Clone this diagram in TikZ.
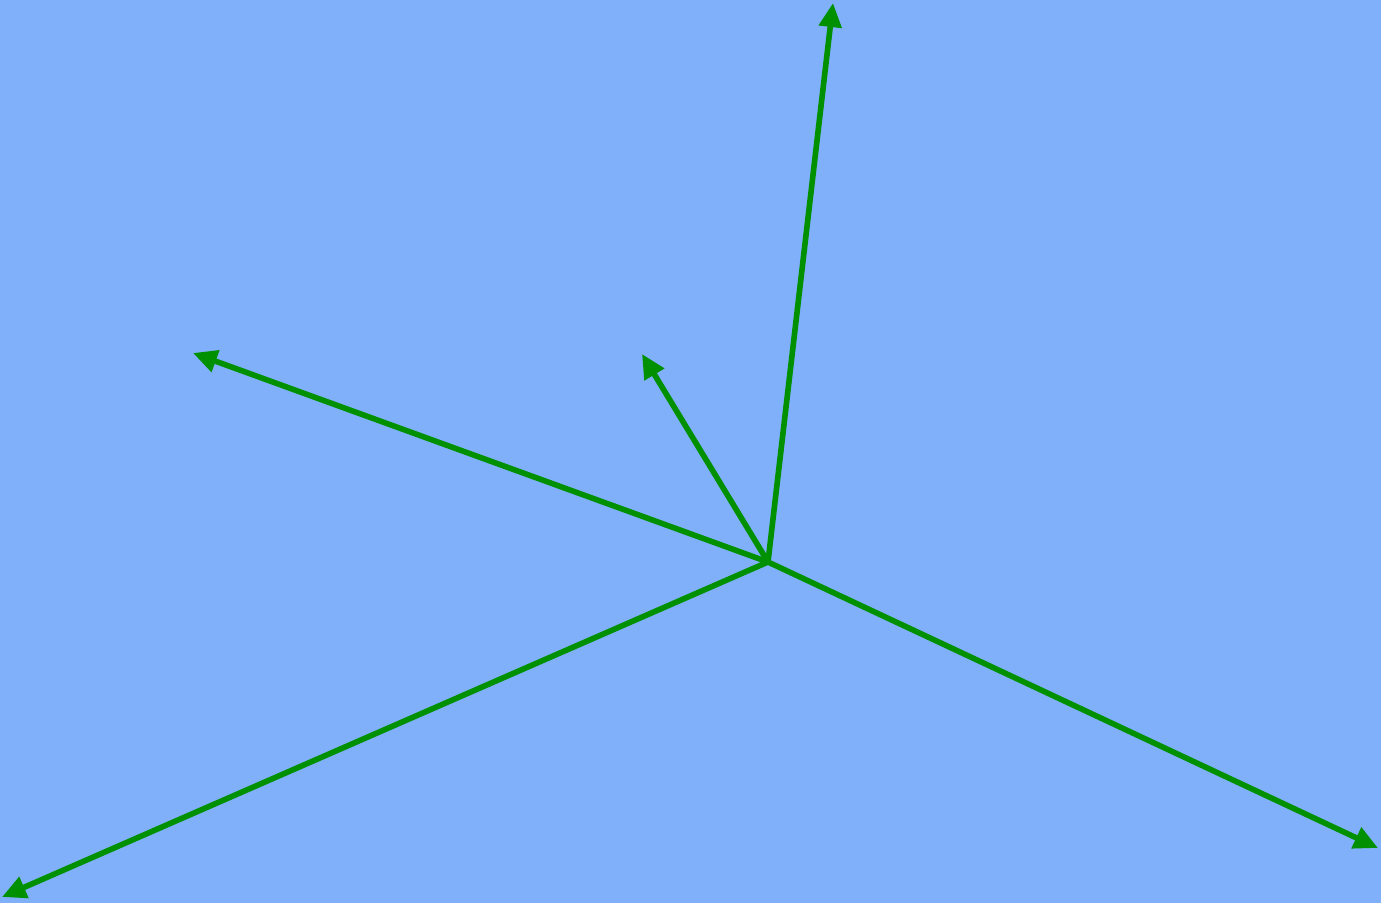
\documentclass[tikz,border=0pt]{standalone}
\usetikzlibrary{arrows.meta}
\definecolor{bg}{HTML}{80B0FA}
\definecolor{arr}{HTML}{009000}
\begin{document}
\begin{tikzpicture}[x=0.01cm,y=-0.01cm,
  vec/.style={draw=arr,line width=0.056cm,-{Triangle[length=0.24cm,width=0.22cm]}}]
\fill[bg] (0,0) rectangle (1381,903);
\useasboundingbox (0,0) rectangle (1381,903);
\coordinate (c) at (768,562);
\coordinate (t1) at (833,3);
\coordinate (t2) at (193,353);
\coordinate (t3) at (642,354);
\coordinate (t4) at (2,897);
\coordinate (t5) at (1378,848);
\draw[vec] (c) -- (t1);
\draw[vec] (c) -- (t2);
\draw[vec] (c) -- (t3);
\draw[vec] (c) -- (t4);
\draw[vec] (c) -- (t5);
\end{tikzpicture}
\end{document}
